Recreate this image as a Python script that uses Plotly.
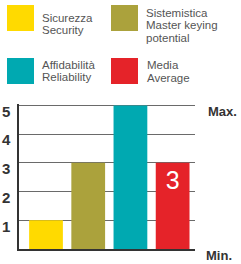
import plotly.graph_objects as go

categories = ["Sicurezza", "Sistemistica", "Affidabilità", "Media"]
values = [1, 3, 5, 3]
bar_labels = ["", "", "", "3"]
colors = ["#FFDA00", "#ABA23C", "#00A9B1", "#E52329"]
legend_lines = [
    ["Sicurezza", "Security"],
    ["Sistemistica", "Master keying", "potential"],
    ["Affidabilità", "Reliability"],
    ["Media", "Average"],
]
tick_vals = [1, 2, 3, 4, 5]
tick_text = ["1", "2", "3", "4", "5"]

W, H = 241, 264
L, R, T, B = 19, 46, 104, 15
pw, ph = W - L - R, H - T - B

def px(x):
    return (x - L) / pw

def py(y):
    return (H - B - y) / ph

fig = go.Figure()
fig.add_trace(go.Bar(
    x=list(range(len(categories))), y=values, marker_color=colors, width=0.8,
    text=bar_labels, textposition="inside", insidetextanchor="end",
    textfont=dict(family="Liberation Sans Narrow, Liberation Sans", size=25, color="white"),
    marker_line_width=0, showlegend=False, hoverinfo="skip",
))

shapes = []
annotations = []
sq = [(7, 5), (111, 5), (7, 58), (111, 58)]
tx = [(40, 17.5), (144, 12.5), (40, 64.5), (145, 65)]
for i in range(4):
    x0, y0 = sq[i]
    shapes.append(dict(type="rect", xref="paper", yref="paper",
                       x0=px(x0), x1=px(x0 + 27), y0=py(y0), y1=py(y0 + 26),
                       fillcolor=colors[i], line_width=0))
    lx, ly = tx[i]
    for j, line in enumerate(legend_lines[i]):
        annotations.append(dict(text=line, xref="paper", yref="paper",
                                x=px(lx), y=py(ly + j * 12.7), xanchor="left", yanchor="middle",
                                showarrow=False,
                                font=dict(family="Liberation Sans", size=11.5, color="#555555")))

annotations.append(dict(text="<b>Max.</b>", xref="paper", yref="paper", x=px(206), y=py(111),
                        xanchor="left", yanchor="middle", showarrow=False,
                        font=dict(family="Liberation Sans", size=13, color="#333333")))
annotations.append(dict(text="<b>Min.</b>", xref="paper", yref="paper", x=px(204), y=py(255),
                        xanchor="left", yanchor="middle", showarrow=False,
                        font=dict(family="Liberation Sans", size=13, color="#333333")))

fig.update_layout(
    width=W, height=H, margin=dict(l=L, r=R, t=T, b=B, autoexpand=False),
    paper_bgcolor="white", plot_bgcolor="white",
    shapes=shapes, annotations=annotations,
    xaxis=dict(range=[-0.64, 3.53], showticklabels=False, showgrid=False, zeroline=False,
               showline=True, linecolor="#333333", linewidth=1.5, ticks="", automargin=False),
    yaxis=dict(range=[0, 5.05], tickvals=tick_vals, ticktext=tick_text, showgrid=True,
               gridcolor="#6a6a6a", gridwidth=1, zeroline=False, showline=True,
               linecolor="#333333", linewidth=1.5, ticks="", ticklabelshift=6,
               ticklabelstandoff=4, automargin=False,
               tickfont=dict(family="Liberation Sans", size=15, color="#333333", weight="bold")),
)
fig.write_html("out.html", config={"displayModeBar": False},
               post_script="document.body.style.margin='0';")
